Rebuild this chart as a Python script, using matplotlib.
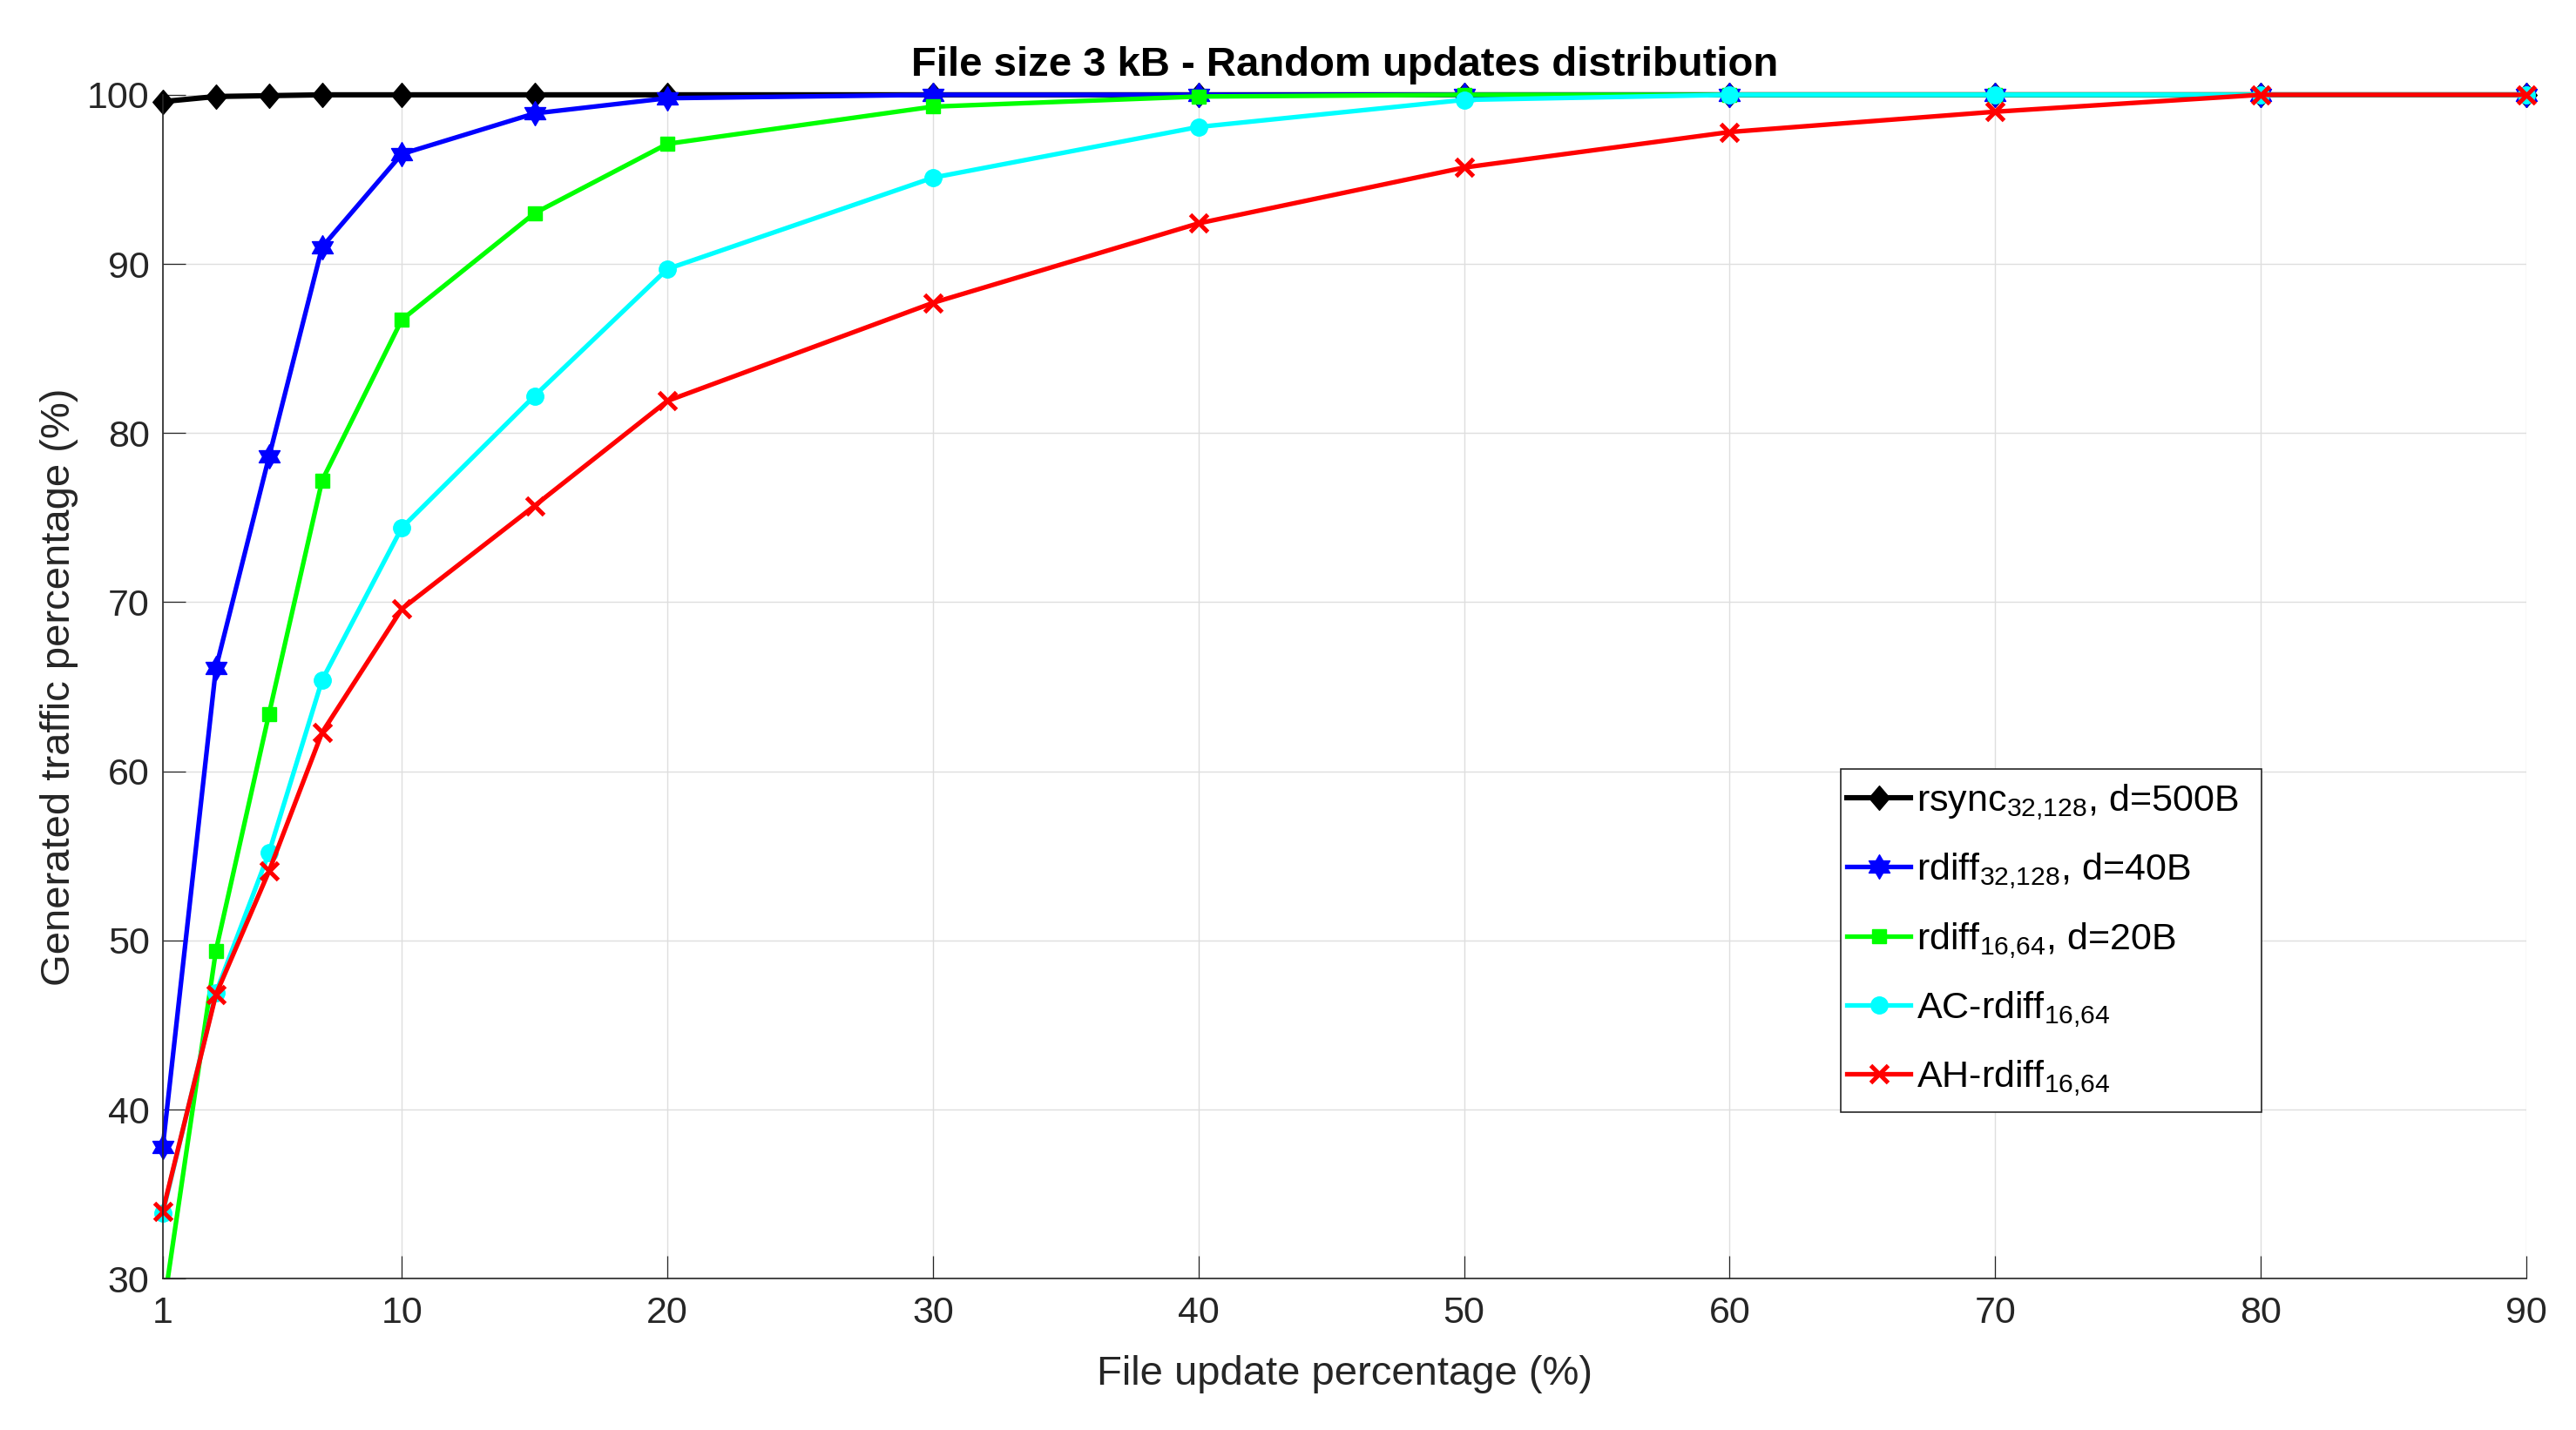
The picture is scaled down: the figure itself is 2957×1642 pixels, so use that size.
import numpy as np
import matplotlib
matplotlib.use("Agg")
import matplotlib.pyplot as plt
from matplotlib.path import Path
from matplotlib.patches import Rectangle
from matplotlib.transforms import Bbox, TransformedBbox

plt.rcParams['font.family'] = ['Liberation Sans', 'DejaVu Sans']
plt.rcParams['mathtext.default'] = 'regular'

# file update percentage (%)
update_pct = [1, 3, 5, 7, 10, 15, 20, 30, 40, 50, 60, 70, 80, 90]

# generated traffic percentage (%)
rsync_32_128 = [99.6, 99.9, 99.95, 100, 100, 100, 100, 100, 100, 100, 100, 100, 100, 100]
rdiff_32_128 = [37.8, 66.1, 78.6, 91.0, 96.5, 98.9, 99.8, 100, 100, 100, 100, 100, 100, 100]
rdiff_16_64 = [28.0, 49.4, 63.4, 77.2, 86.7, 93.0, 97.1, 99.3, 99.9, 100, 100, 100, 100, 100]
ac_rdiff = [33.9, 46.9, 55.2, 65.4, 74.4, 82.2, 89.7, 95.1, 98.1, 99.7, 100, 100, 100, 100]
ah_rdiff = [34.0, 46.8, 54.1, 62.3, 69.6, 75.7, 81.9, 87.7, 92.4, 95.7, 97.8, 99.0, 100, 100]

labels = [r'rsync$_{32{,}128}$, d=500B',
          r'rdiff$_{32{,}128}$, d=40B',
          r'rdiff$_{16{,}64}$, d=20B',
          r'AC-rdiff$_{16{,}64}$',
          r'AH-rdiff$_{16{,}64}$']

xticks = [1, 10, 20, 30, 40, 50, 60, 70, 80, 90]
yticks = [30, 40, 50, 60, 70, 80, 90, 100]

# matlab style markers
diamond = Path([(0, 1), (0.85, 0), (0, -1), (-0.85, 0), (0, 1)],
               [Path.MOVETO, Path.LINETO, Path.LINETO, Path.LINETO, Path.CLOSEPOLY])
hexagram = Path.unit_regular_star(6, innerCircle=0.58)

fig = plt.figure(figsize=(29.57, 16.42), dpi=100)
ax = fig.add_axes([0.0632, 0.1058, 0.9807 - 0.0632, 0.9337 - 0.1058])

series = [
    (rsync_32_128, 'black', diamond, 20, 4.4, 1),
    (rdiff_32_128, 'blue', hexagram, 20, 3.8, 1),
    (rdiff_16_64, (0, 1, 0), 's', 11.5, 3.8, 1),
    (ac_rdiff, (0, 1, 1), 'o', 14, 3.8, 1),
    (ah_rdiff, 'red', 'x', 15, 3.8, 3.6),
]

# clip like matlab: lines clipped at the bottom, markers allowed to stick out at edges
clip = TransformedBbox(Bbox([[-0.03, 0.0], [1.03, 1.04]]), ax.transAxes)
handles = []
for (vals, col, mk, ms, lw, mew), lab in zip(series, labels):
    ln, = ax.plot(update_pct, vals, color=col, marker=mk, markersize=ms, linewidth=lw,
                  markerfacecolor=col, markeredgecolor=col, markeredgewidth=mew, label=lab)
    ln.set_clip_box(clip)
    handles.append(ln)

ax.set_xlim(1, 90)
ax.set_ylim(30, 100)
ax.set_xticks(xticks)
ax.set_yticks(yticks)
ax.grid(True, color=(0.87, 0.87, 0.87), linewidth=1.0)
ax.set_axisbelow(True)

ax.spines['top'].set_visible(False)
ax.spines['right'].set_visible(False)
for s in ['left', 'bottom']:
    ax.spines[s].set_color((0.15, 0.15, 0.15))
    ax.spines[s].set_linewidth(1.2)

ax.tick_params(axis='both', direction='in', length=19, width=0.9,
               colors=(0.15, 0.15, 0.15), labelsize=31)
ax.tick_params(axis='x', pad=14)
ax.tick_params(axis='y', pad=11)

ax.set_xlabel('File update percentage (%)', fontsize=34, color=(0.15, 0.15, 0.15))
ax.set_ylabel('Generated traffic percentage (%)', fontsize=34, color=(0.15, 0.15, 0.15))
ax.xaxis.set_label_coords(0.5, -0.0895)
ax.xaxis.label.set_va('baseline')
ax.yaxis.set_label_coords(-0.0394, 0.5)
ax.yaxis.label.set_va('baseline')

ax.set_title('File size 3 kB - Random updates distribution', fontsize=34,
             fontweight='bold', pad=16)

# legend frame drawn separately so its size matches the original box
ax.add_patch(Rectangle((0.710, 0.1407), 0.888 - 0.710, 0.4306 - 0.1407,
                       transform=ax.transAxes, facecolor='white',
                       edgecolor=(0.15, 0.15, 0.15), linewidth=1.2, zorder=5))
leg = ax.legend(handles=handles, loc='center left', bbox_to_anchor=(0.7125, 0.2857),
                borderaxespad=0, borderpad=0, fontsize=31, frameon=False,
                handlelength=1.7, handletextpad=0.15, labelspacing=0.78)
leg.set_zorder(6)

fig.savefig('out.png', dpi=100)
